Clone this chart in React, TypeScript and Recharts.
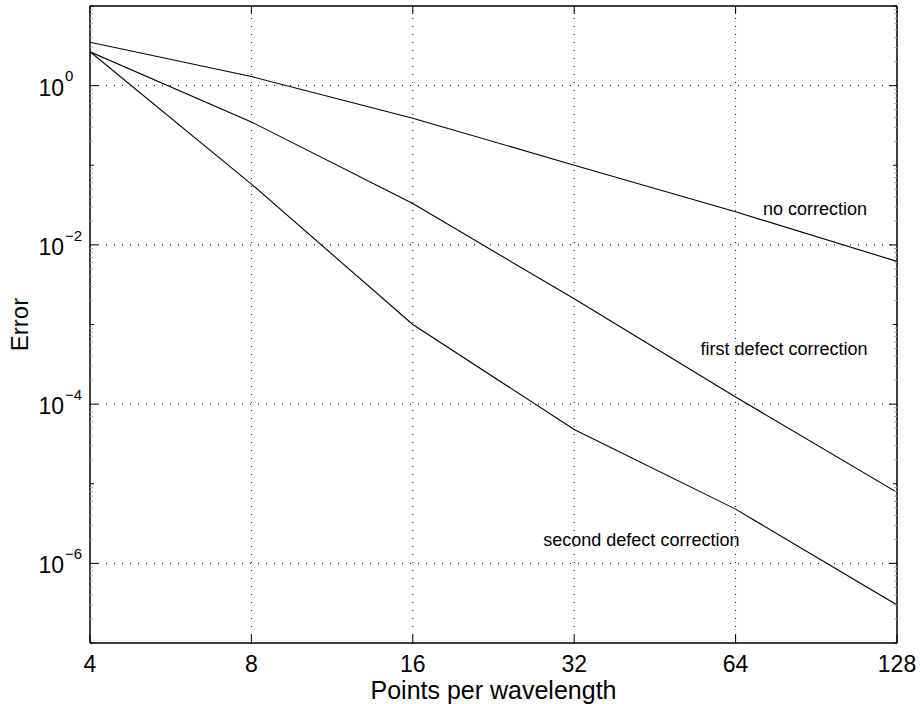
import React from 'react';
import { LineChart, Line, XAxis, YAxis, ReferenceLine, ReferenceDot } from 'recharts';

const pointsPerWavelength = [4, 8, 16, 32, 64, 128];
const noCorrection = [3.5, 1.3, 0.39, 0.1, 0.026, 0.0062];
const firstDefect = [2.66, 0.35, 0.033, 0.0021, 1.23e-4, 7.8e-6];
const secondDefect = [2.66, 0.058, 1.0e-3, 4.8e-5, 4.8e-6, 3.0e-7];

const xTicks = [4, 8, 16, 32, 64, 128];
const xGridValues = [8, 16, 32, 64];
const yDomain = [1e-7, 10];
const yDecadeExponents = [-7, -6, -5, -4, -3, -2, -1, 0, 1];
const yMinorMultipliers = [2, 3, 4, 5, 6, 7, 8, 9];
const yLabelExponents = [0, -2, -4, -6];
const yGridValues = [1, 1e-2, 1e-4, 1e-6];

const annotationTexts = ['no correction', 'first defect correction', 'second defect correction'];
const annotationX = [90, 78.8, 42.7];
const annotationY = [0.0288, 4.92e-4, 1.97e-6];

const FONT = '"Liberation Sans", Arial, Helvetica, sans-serif';

const data = pointsPerWavelength.map((x, i) => ({
  x,
  none: noCorrection[i],
  first: firstDefect[i],
  second: secondDefect[i],
}));

const yTicks: number[] = [];
yDecadeExponents.forEach((e) => {
  yTicks.push(Math.pow(10, e));
  if (e < 1) yMinorMultipliers.forEach((m) => yTicks.push(m * Math.pow(10, e)));
});

function tickKind(v: number) {
  const l = Math.log10(v);
  const r = Math.round(l);
  if (Math.abs(l - r) < 1e-6) return { dec: true, exp: r, major: r % 2 === 0 };
  return { dec: false, exp: r, major: false };
}

const LeftTick = (props: any) => {
  const { x, y, payload } = props;
  const k = tickKind(payload.value);
  const len = k.major ? 8 : k.dec ? 4 : 3;
  return (
    <g>
      <line x1={x} x2={x + len} y1={y} y2={y} stroke={k.dec ? '#000' : '#aaa'} strokeWidth={1} />
      {k.dec && yLabelExponents.includes(k.exp) && (
        <g>
          <text x={x - 26} y={y + 10} textAnchor="end" fontFamily={FONT} fontSize={23} fill="#000">10</text>
          <text x={x - 25} y={y - 4.3} textAnchor="start" fontFamily={FONT} fontSize={15} fill="#000">
            {k.exp === 0 ? '0' : '\u2212' + Math.abs(k.exp)}
          </text>
        </g>
      )}
    </g>
  );
};

const RightTick = (props: any) => {
  const { x, y, payload } = props;
  const k = tickKind(payload.value);
  const len = k.major ? 8 : k.dec ? 4 : 3;
  return <line x1={x} x2={x - len} y1={y} y2={y} stroke={k.dec ? '#000' : '#aaa'} strokeWidth={1} />;
};

const BottomTick = (props: any) => {
  const { x, y, payload } = props;
  return (
    <g>
      <line x1={x} x2={x} y1={y} y2={y - 8} stroke="#000" strokeWidth={1} />
      <text x={x} y={y + 29} textAnchor="middle" fontFamily={FONT} fontSize={23} fill="#000">
        {payload.value}
      </text>
    </g>
  );
};

const TopTick = (props: any) => {
  const { x, y } = props;
  return <line x1={x} x2={x} y1={y} y2={y + 8} stroke="#000" strokeWidth={1} />;
};

const XTitle = (props: any) => {
  const vb = props.viewBox;
  return (
    <text x={vb.x + vb.width / 2} y={vb.y + 56} textAnchor="middle" fontFamily={FONT} fontSize={25} fill="#000">
      Points per wavelength
    </text>
  );
};

const YTitle = (props: any) => {
  const vb = props.viewBox;
  const cy = vb.y + vb.height / 2;
  return (
    <text x={0} y={0} transform={`translate(28, ${cy}) rotate(-90)`} textAnchor="middle" fontFamily={FONT} fontSize={24} fill="#000">
      Error
    </text>
  );
};

const axisLine = { stroke: '#000', strokeWidth: 1.5 };

export default function App() {
  return (
    <div style={{ position: 'absolute', left: 0, top: 0, width: 920, height: 704, background: '#fff' }}>
      <LineChart width={920} height={704} data={data} margin={{ top: 5, right: 22, bottom: 0, left: 0 }}>
        <XAxis
          xAxisId="b"
          dataKey="x"
          type="number"
          scale="log"
          domain={[4, 128]}
          ticks={xTicks}
          interval={0}
          allowDataOverflow
          height={61}
          tickSize={0}
          tickMargin={0}
          tickLine={false}
          axisLine={axisLine}
          tick={<BottomTick />}
          label={{ content: <XTitle /> }}
        />
        <XAxis
          xAxisId="t"
          orientation="top"
          dataKey="x"
          type="number"
          scale="log"
          domain={[4, 128]}
          ticks={xTicks}
          interval={0}
          allowDataOverflow
          height={1}
          tickSize={0}
          tickMargin={0}
          tickLine={false}
          axisLine={axisLine}
          tick={<TopTick />}
        />
        <YAxis
          yAxisId="l"
          type="number"
          scale="log"
          domain={yDomain}
          ticks={yTicks}
          interval={0}
          allowDataOverflow
          width={90}
          tickSize={0}
          tickMargin={0}
          tickLine={false}
          axisLine={axisLine}
          tick={<LeftTick />}
          label={{ content: <YTitle /> }}
        />
        <YAxis
          yAxisId="r"
          orientation="right"
          type="number"
          scale="log"
          domain={yDomain}
          ticks={yTicks}
          interval={0}
          allowDataOverflow
          width={1}
          tickSize={0}
          tickMargin={0}
          tickLine={false}
          axisLine={axisLine}
          tick={<RightTick />}
        />
        {yGridValues.map((v) => (
          <ReferenceLine key={'gy' + v} xAxisId="b" yAxisId="l" y={v} stroke="#000" strokeWidth={1} strokeDasharray="1 7" />
        ))}
        {xGridValues.map((v) => (
          <ReferenceLine key={'gx' + v} xAxisId="b" yAxisId="l" x={v} stroke="#000" strokeWidth={1} strokeDasharray="1 7" />
        ))}
        <Line xAxisId="b" yAxisId="l" dataKey="none" stroke="#000" strokeWidth={1.1} dot={false} isAnimationActive={false} />
        <Line xAxisId="b" yAxisId="l" dataKey="first" stroke="#000" strokeWidth={1.1} dot={false} isAnimationActive={false} />
        <Line xAxisId="b" yAxisId="l" dataKey="second" stroke="#000" strokeWidth={1.1} dot={false} isAnimationActive={false} />
        {annotationTexts.map((t, i) => (
          <ReferenceDot
            key={t}
            xAxisId="b"
            yAxisId="l"
            x={annotationX[i]}
            y={annotationY[i]}
            r={0}
            stroke="none"
            fill="none"
            label={{ value: t, position: 'center', fontSize: 18, fill: '#000', fontFamily: FONT }}
          />
        ))}
      </LineChart>
    </div>
  );
}
